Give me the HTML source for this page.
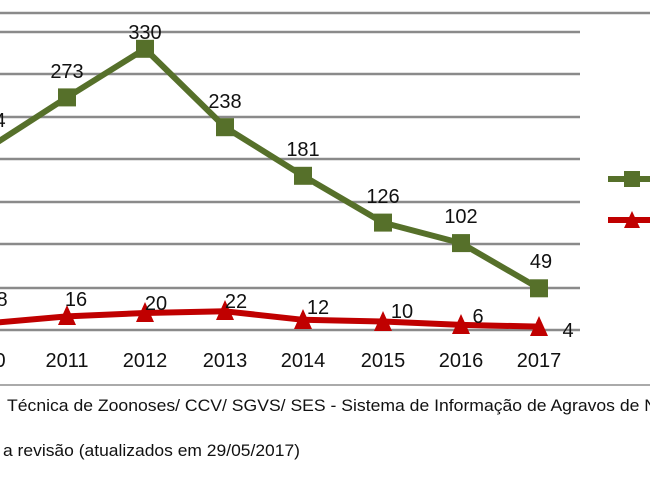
<!DOCTYPE html>
<html><head><meta charset="utf-8"><style>
html,body{margin:0;padding:0;background:#fff;width:650px;height:480px;overflow:hidden}
svg{display:block}
text{font-family:"Liberation Sans",sans-serif;fill:#111}
.v{font-size:20px;text-anchor:middle}
.y{font-size:20px;text-anchor:middle}
.f{font-size:16.5px}
</style></head><body>
<svg width="650" height="480" viewBox="0 0 650 480">
<g stroke="#8a8a8a" stroke-width="2.5">
<line x1="0" y1="13" x2="650" y2="13"/>
<line x1="0" y1="32" x2="580" y2="32"/>
<line x1="0" y1="74" x2="580" y2="74"/>
<line x1="0" y1="117" x2="580" y2="117"/>
<line x1="0" y1="159" x2="580" y2="159"/>
<line x1="0" y1="202" x2="580" y2="202"/>
<line x1="0" y1="244" x2="580" y2="244"/>
<line x1="0" y1="288" x2="580" y2="288"/>
<line x1="0" y1="330" x2="580" y2="330"/>
<line x1="0" y1="385" x2="650" y2="385" stroke="#aaa" stroke-width="2"/>
</g>
<polyline fill="none" stroke="#56702a" stroke-width="6" stroke-linejoin="round" points="-11,147.7 67,97.4 145,48.8 225,127.2 303,175.8 383,222.6 461,243.1 539,288.3"/>
<g fill="#56702a">
<rect x="58" y="88.4" width="18" height="18"/>
<rect x="136" y="39.8" width="18" height="18"/>
<rect x="216" y="118.2" width="18" height="18"/>
<rect x="294" y="166.8" width="18" height="18"/>
<rect x="374" y="213.6" width="18" height="18"/>
<rect x="452" y="234.1" width="18" height="18"/>
<rect x="530" y="279.3" width="18" height="18"/>
</g>
<polyline fill="none" stroke="#c00000" stroke-width="6" stroke-linejoin="round" points="-11,323.2 67,316.4 145,313 225,311.3 303,319.8 383,321.5 461,324.9 539,326.6"/>
<g fill="#c00000">
<polygon points="67,305 58,325 76,325"/>
<polygon points="145,302 136,322 154,322"/>
<polygon points="225,300 216,320 234,320"/>
<polygon points="303,309 294,329 312,329"/>
<polygon points="383,311 374,331 392,331"/>
<polygon points="461,314 452,334 470,334"/>
<polygon points="539,316 530,336 548,336"/>
</g>
<text class="v" x="0" y="127">4</text>
<text class="v" x="67" y="78">273</text>
<text class="v" x="145" y="39">330</text>
<text class="v" x="225" y="108">238</text>
<text class="v" x="303" y="156">181</text>
<text class="v" x="383" y="203">126</text>
<text class="v" x="461" y="223">102</text>
<text class="v" x="541" y="268">49</text>
<text class="v" x="2" y="306">8</text>
<text class="v" x="76" y="306">16</text>
<text class="v" x="156" y="310">20</text>
<text class="v" x="236" y="308">22</text>
<text class="v" x="318" y="314">12</text>
<text class="v" x="402" y="318">10</text>
<text class="v" x="478" y="323">6</text>
<text class="v" x="568" y="337">4</text>
<text class="y" x="0" y="367">0</text>
<text class="y" x="67" y="367">2011</text>
<text class="y" x="145" y="367">2012</text>
<text class="y" x="225" y="367">2013</text>
<text class="y" x="303" y="367">2014</text>
<text class="y" x="383" y="367">2015</text>
<text class="y" x="461" y="367">2016</text>
<text class="y" x="539" y="367">2017</text>
<line x1="608" y1="179" x2="650" y2="179" stroke="#56702a" stroke-width="6"/>
<rect x="624" y="171" width="16" height="16" fill="#56702a"/>
<line x1="608" y1="220" x2="650" y2="220" stroke="#c00000" stroke-width="6"/>
<polygon points="632,211 624,228 640,228" fill="#c00000"/>
<text class="f" x="7" y="411" textLength="650" lengthAdjust="spacingAndGlyphs">Técnica de Zoonoses/ CCV/ SGVS/ SES - Sistema de Informação de Agravos de N</text>
<text class="f" x="3" y="456" textLength="297" lengthAdjust="spacingAndGlyphs">a revisão (atualizados em 29/05/2017)</text>
</svg>
</body></html>
